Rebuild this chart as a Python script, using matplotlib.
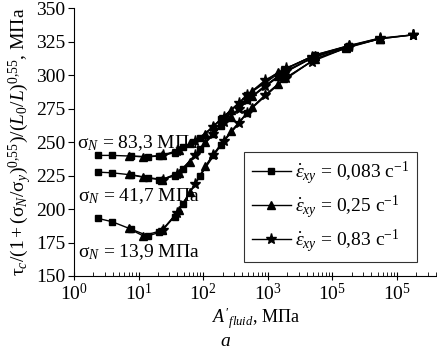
import numpy as np
import matplotlib
matplotlib.use("Agg")
from matplotlib import pyplot as plt
from matplotlib.ticker import FixedLocator, FixedFormatter, LogLocator, NullFormatter

plt.rcParams['font.family'] = ['Liberation Serif', 'DejaVu Serif']
plt.rcParams['mathtext.fontset'] = 'custom'
plt.rcParams['mathtext.rm'] = 'Liberation Serif'
plt.rcParams['mathtext.it'] = 'Liberation Serif:italic'
plt.rcParams['mathtext.bf'] = 'Liberation Serif:bold'

# A'_fluid values for each strain rate
a_sq = [2.35, 3.9, 7.6, 14, 21, 36, 48, 90, 190, 480, 1800, 5400, 18000]
a_tr = [7, 11.7, 23, 42, 63, 108, 144, 270, 570, 1440, 5400, 16200, 54000]
a_st = [23.5, 39, 76, 140, 210, 360, 480, 900, 1900, 4800, 18000, 54000, 180000]

# sigma_N = 83,3 MPa
top_sq = [240, 240, 239.5, 239, 239.5, 242, 246, 253, 267, 285, 304, 315, 322]
top_tr = [239.5, 239, 240, 244, 249, 256, 262, 274, 288, 302, 315, 321, 327.5]
top_st = [240, 243, 251, 261, 269, 279, 285, 296, 305, 313.5, 322, 327.5, 330]

# sigma_N = 41,7 MPa
mid_sq = [227.5, 227, 225.5, 223, 222, 224.5, 230, 245, 262, 281, 302, 314, 321.5]
mid_tr = [226, 224, 222, 227, 235, 250, 257, 269, 284, 299, 314, 321, 327]
mid_st = [222, 226, 240, 256, 265, 275, 281, 292, 303, 312.5, 321.5, 327, 330]

# sigma_N = 13,9 MPa
bot_sq = [193, 190.5, 185, 180, 182.5, 194, 203.5, 225, 248, 272, 297, 312, 321]
bot_tr = [185.5, 180, 184, 199, 213, 232, 241, 258, 276, 293, 312, 320, 327]
bot_st = [184, 197, 219, 240, 251, 264, 272, 285, 298, 310, 321, 327, 330]

rate_labels = [r'$\dot{\varepsilon}_{xy}$ = 0,083 с$^{-1}$',
               r'$\dot{\varepsilon}_{xy}$ = 0,25 с$^{-1}$',
               r'$\dot{\varepsilon}_{xy}$ = 0,83 с$^{-1}$']
sigma_labels = [r'σ$_N$ = 83,3 МПа', r'σ$_N$ = 41,7 МПа', r'σ$_N$ = 13,9 МПа']
sigma_pos = [(1.12, 249), (1.15, 210), (1.15, 168)]

xtick_vals = [1, 10, 100, 1000, 10000, 100000]
xtick_labels = ['$10^0$', '$10^1$', '$10^2$', '$10^3$', '$10^5$', '$10^5$']

fig = plt.figure(figsize=(4.37, 3.48), dpi=100)
ax = fig.add_axes([74/437, 72/348, 363/437, 268/348])

markers = ['s', '^', '*']
msizes = [5, 5.5, 8]
groups = [(top_sq, top_tr, top_st), (mid_sq, mid_tr, mid_st), (bot_sq, bot_tr, bot_st)]
xs = [a_sq, a_tr, a_st]

for g, grp in enumerate(groups):
    for k in range(3):
        ax.plot(xs[k], grp[k], color='black', lw=1.0, marker=markers[k],
                ms=msizes[k], label=rate_labels[k] if g == 0 else None)

for lab, (x, y) in zip(sigma_labels, sigma_pos):
    ax.text(x, y, lab, fontsize=14, va='center', ha='left')

ax.set_xscale('log')
ax.set_xlim(1, 10**5.62)
ax.set_ylim(150, 350)
ax.set_yticks(np.arange(150, 351, 25))
ax.xaxis.set_major_locator(FixedLocator(xtick_vals))
ax.xaxis.set_major_formatter(FixedFormatter(xtick_labels))
ax.xaxis.set_minor_locator(LogLocator(base=10, subs=np.arange(2, 10), numticks=20))
ax.xaxis.set_minor_formatter(NullFormatter())

ax.spines['top'].set_visible(False)
ax.spines['right'].set_visible(False)
ax.tick_params(axis='x', which='major', direction='inout', length=6, labelsize=14, pad=2)
ax.tick_params(axis='x', which='minor', direction='in', length=3)
ax.tick_params(axis='y', which='major', direction='out', length=4, labelsize=14, pad=2)

ax.set_ylabel(r'$\mathrm{\tau}_c/(1 + (\mathrm{\sigma}_N/\mathrm{\sigma}_y)^{0{,}55})/(L_0/L)^{0{,}55}$, МПа',
              fontsize=14, labelpad=2)
ax.set_xlabel(r"$A'_{fluid}$, МПа", fontsize=13, labelpad=1)
fig.text(225/437, 1 - 341/348, 'a', fontsize=14, style='italic', ha='center', va='center')

leg = ax.legend(loc='upper right', bbox_to_anchor=(0.945, 0.463), fontsize=14,
                frameon=True, fancybox=False, edgecolor='black', handlelength=2.0,
                handletextpad=0.2, borderpad=0.4, labelspacing=0.35, numpoints=1,
                borderaxespad=0)
leg.get_frame().set_linewidth(0.8)

fig.savefig('out.png', dpi=100)
